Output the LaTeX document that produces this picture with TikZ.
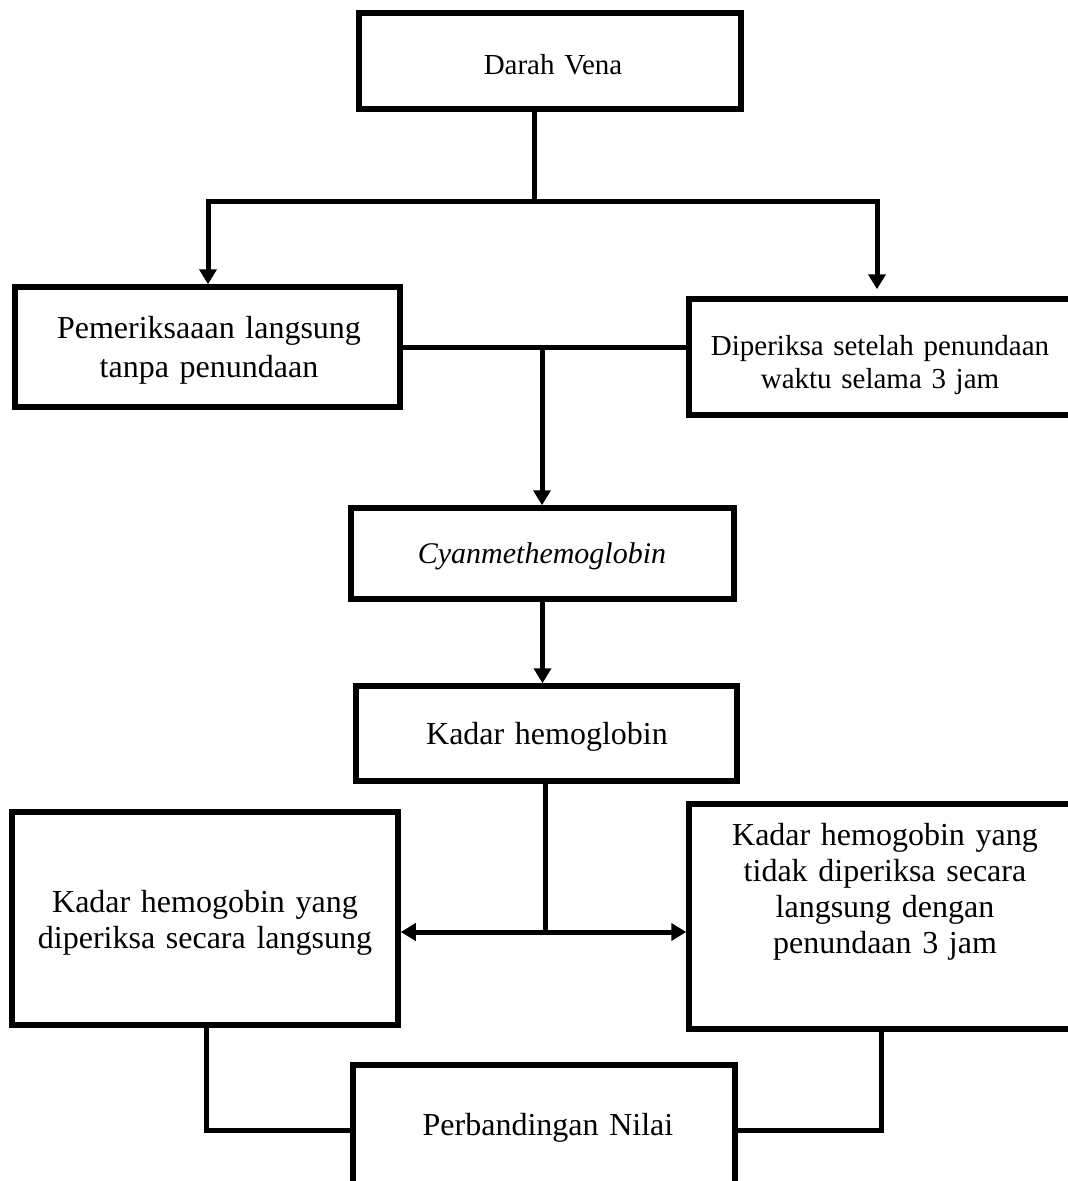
\documentclass[tikz,border=0pt]{standalone}
\usepackage{fontspec}
\setmainfont{Liberation Serif}
\usetikzlibrary{arrows.meta}
\begin{document}
\begin{tikzpicture}[x=1pt,y=-1pt,
  box/.style={draw=black,line width=5.5pt,inner sep=0pt,line join=miter},
  conn/.style={draw=black,line width=5pt,line join=miter,line cap=rect},
  tip/.style={-{Triangle[width=17pt,length=15pt]}},
  txt/.style={inner sep=0pt,anchor=base,text width=440pt,align=center},
  fA/.style={font=\fontsize{29}{33}\selectfont},
  fB/.style={font=\fontsize{32}{39}\selectfont},
  fC/.style={font=\fontsize{32}{36.5}\selectfont}]
\useasboundingbox (0,0) rectangle (1068,1181);
\fill[white] (0,0) rectangle (1068,1181);
% boxes
\node[box,minimum width=382pt,minimum height=96pt] (dv) at (550,61) {};
\node[box,minimum width=385pt,minimum height=120pt] (pl) at (207.5,347) {};
\node[box,minimum width=386pt,minimum height=116pt] (dp) at (882,357) {};
\node[box,minimum width=383pt,minimum height=91pt] (cy) at (542.5,553.5) {};
\node[box,minimum width=381pt,minimum height=95pt] (kh) at (546.5,733.5) {};
\node[box,minimum width=386pt,minimum height=213pt] (kl) at (205,918.5) {};
\node[box,minimum width=392pt,minimum height=225pt] (kr) at (885,916.5) {};
\node[box,minimum width=382pt,minimum height=130pt] (pn) at (544,1130) {};
% texts
\node[txt,fA] (dvt) at (553,74) {Darah Vena};
\node[txt,fB] (plt) at (209,338) {Pemeriksaaan langsung\\tanpa penundaan};
\node[txt,fA] (dpt) at (880,355) {Diperiksa setelah penundaan\\waktu selama 3 jam};
\node[txt,font=\fontsize{30}{36}\selectfont\itshape] (cyt) at (542,563) {Cyanmethemoglobin};
\node[txt,fB] (kht) at (547,744) {Kadar hemoglobin};
\node[txt,fC] (klt) at (205,912) {Kadar hemogobin yang\\diperiksa secara langsung};
\node[txt,font=\fontsize{32}{36}\selectfont] (krt) at (885,845) {Kadar hemogobin yang\\tidak diperiksa secara\\langsung dengan\\penundaan 3 jam};
\node[txt,fB] (pnt) at (548,1135) {Perbandingan Nilai};
% junction coordinates
\coordinate (j1) at (534,201);
\coordinate (la) at (208,201);
\coordinate (ra) at (877,201);
\coordinate (m1) at (542,347);
\coordinate (j3) at (545,932);
\coordinate (bl) at (206,1130);
\coordinate (br) at (881,1130);
% connectors
\draw[conn] (dv.south -| j1) -- (j1);
\draw[conn,tip] (j1) -- (la) -- (pl.north -| la);
\draw[conn,tip] (j1) -- (ra) -- ([yshift=7pt]dp.north -| ra);
\draw[conn] (pl.east) -- (pl.east -| dp.west);
\draw[conn,tip] (m1) -- (cy.north -| m1);
\draw[conn,tip] (cy.south) -- (cy.south |- kh.north);
\draw[conn] (kh.south -| j3) -- (j3);
\draw[conn,{Triangle[width=17pt,length=15pt]}-{Triangle[width=17pt,length=15pt]}] (kl.east |- j3) -- (kr.west |- j3);
\draw[conn] (kl.south -| bl) -- (bl) -- (pn.west);
\draw[conn] (kr.south -| br) -- (br) -- (pn.east);
\end{tikzpicture}
\end{document}
